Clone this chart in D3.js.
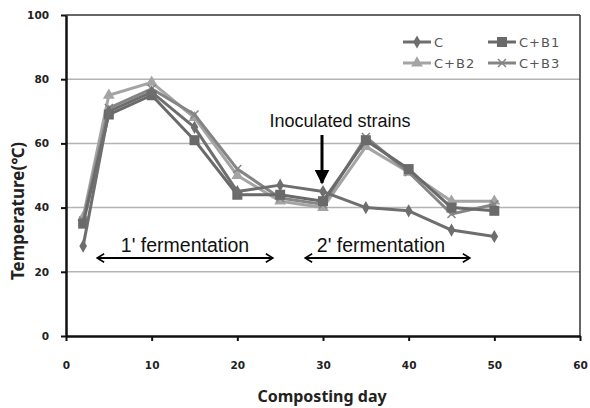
<!DOCTYPE html>
<html><head><meta charset="utf-8">
<script src="https://cdn.jsdelivr.net/npm/d3@7"></script>
<style>body{margin:0;background:#fff}svg{display:block}</style>
</head><body>
<svg id="c" width="590" height="408"></svg>
<script>
const days = [2,5,10,15,20,25,30,35,40,45,50];
const seriesNames = ["C","C+B1","C+B2","C+B3"];
const valC   = [28,70,76,65,45,47,45,40,39,33,31];
const valCB1 = [35,69,75,61,44,44,42,61,52,40,39];
const valCB2 = [37,75,79,68,50,42,40,59,51,42,42];
const valCB3 = [36,71,77,69,52,43,41,62,51,38,41];
const xTicks = [0,10,20,30,40,50,60];
const yTicks = [0,20,40,60,80,100];

const series = [
  {name:"C", vals:valC, color:"#6e6e6e", marker:"diamond"},
  {name:"C+B1", vals:valCB1, color:"#6a6a6a", marker:"square"},
  {name:"C+B2", vals:valCB2, color:"#a4a4a4", marker:"triangle"},
  {name:"C+B3", vals:valCB3, color:"#858585", marker:"cross"}
];

const svg = d3.select("#c");
const x = d3.scaleLinear().domain([0,60]).range([66,580]);
const y = d3.scaleLinear().domain([0,100]).range([336,15]);

// gridlines
svg.append("g").selectAll("line").data(yTicks.filter(d=>d>0 && d<100)).join("line")
  .attr("x1",x(0)).attr("x2",x(60)).attr("y1",d=>y(d)).attr("y2",d=>y(d))
  .attr("stroke","#b4b4b4").attr("stroke-width",1.5);
// frame top/right
svg.append("line").attr("x1",x(0)).attr("x2",x(60)).attr("y1",y(100)).attr("y2",y(100)).attr("stroke","#333").attr("stroke-width",1.5);
svg.append("line").attr("x1",x(60)).attr("x2",x(60)).attr("y1",y(100)).attr("y2",y(0)).attr("stroke","#333").attr("stroke-width",1.5);

const tickFont = "'DejaVu Sans', sans-serif";
const xAxis = svg.append("g").attr("transform",`translate(0,${y(0)})`)
  .call(d3.axisBottom(x).tickValues(xTicks).tickSize(5).tickSizeOuter(0).tickPadding(21));
const yAxis = svg.append("g").attr("transform",`translate(${x(0)},0)`)
  .call(d3.axisLeft(y).tickValues(yTicks).tickSize(5).tickSizeOuter(0).tickPadding(12));
[xAxis,yAxis].forEach(a=>{
  a.select(".domain").attr("stroke","#111").attr("stroke-width",2.5);
  a.selectAll(".tick line").attr("stroke","#111").attr("stroke-width",2);
  a.selectAll(".tick text").attr("font-family",tickFont).attr("font-weight","bold")
    .attr("font-size",10.5).attr("fill","#222");
});

// lines
const line = d3.line().x((d,i)=>x(days[i])).y(d=>y(d));
function marker(g, type, color){
  if(type==="diamond"){
    g.append("path").attr("d",d3.symbol(d3.symbolDiamond, 50)()).attr("fill",color);
  } else if(type==="square"){
    g.append("rect").attr("x",-5).attr("y",-5).attr("width",10).attr("height",10).attr("fill",color);
  } else if(type==="triangle"){
    g.append("path").attr("d",d3.symbol(d3.symbolTriangle, 60)()).attr("fill",color);
  } else {
    g.append("path").attr("d","M-4,-4L4,4M-4,4L4,-4").attr("stroke",color).attr("stroke-width",1.5).attr("fill","none");
  }
}
const order = [2,3,1,0];
order.forEach(k=>{
  const s = series[k];
  svg.append("path").datum(s.vals).attr("d",line).attr("fill","none")
    .attr("stroke",s.color).attr("stroke-width",3).attr("stroke-linejoin","round");
  s.vals.forEach((v,i)=>{
    const g = svg.append("g").attr("transform",`translate(${x(days[i])},${y(v)})`);
    marker(g,s.marker,s.color);
  });
});

// legend
const legPos = [[403,42],[488,42],[403,63],[488,63]];
series.forEach((s,i)=>{
  const [lx,ly] = legPos[i];
  svg.append("line").attr("x1",lx).attr("x2",lx+28).attr("y1",ly).attr("y2",ly)
    .attr("stroke",s.color).attr("stroke-width",3);
  const g = svg.append("g").attr("transform",`translate(${lx+14},${ly})`);
  marker(g,s.marker,s.color);
  svg.append("text").attr("x",lx+31).attr("y",ly+5).text(s.name)
    .attr("font-family","'DejaVu Sans', sans-serif").attr("font-size",13).attr("fill","#555")
    .attr("letter-spacing",1);
});

// annotations
const annFont = "'Liberation Sans', Arial, sans-serif";
svg.append("text").attr("x",340).attr("y",127).attr("text-anchor","middle").text("Inoculated strains")
  .attr("font-family",annFont).attr("font-size",18).attr("fill","#111");
svg.append("defs").html(`
  <marker id="ah" viewBox="0 0 10 10" refX="9" refY="5" markerWidth="5" markerHeight="5" orient="auto-start-reverse">
    <path d="M0,0L10,5L0,10z" fill="#000"/></marker>
  <marker id="oh" viewBox="0 0 14 14" refX="13" refY="7" markerWidth="10" markerHeight="10" orient="auto-start-reverse" markerUnits="userSpaceOnUse">
    <path d="M3,1L13,7L3,13" fill="none" stroke="#000" stroke-width="2.2"/></marker>`);
svg.append("line").attr("x1",x(30)-1).attr("x2",x(30)-1).attr("y1",135).attr("y2",183)
  .attr("stroke","#000").attr("stroke-width",3).attr("marker-end","url(#ah)");

svg.append("text").attr("x",185).attr("y",252).attr("text-anchor","middle").text("1' fermentation")
  .attr("font-family",annFont).attr("font-size",19.5).attr("fill","#111");
svg.append("line").attr("x1",97).attr("x2",273).attr("y1",258).attr("y2",258)
  .attr("stroke","#000").attr("stroke-width",2.2).attr("marker-start","url(#oh)").attr("marker-end","url(#oh)");
svg.append("text").attr("x",381).attr("y",252).attr("text-anchor","middle").text("2' fermentation")
  .attr("font-family",annFont).attr("font-size",19.5).attr("fill","#111");
svg.append("line").attr("x1",305).attr("x2",470).attr("y1",258).attr("y2",258)
  .attr("stroke","#000").attr("stroke-width",2.2).attr("marker-start","url(#oh)").attr("marker-end","url(#oh)");

// axis titles
svg.append("text").attr("x",322).attr("y",402).attr("text-anchor","middle").text("Composting day")
  .attr("font-family","'Noto Sans', sans-serif").attr("font-weight","bold").attr("font-size",16).attr("fill","#222");
svg.append("text").attr("transform","translate(24,211) rotate(-90)").attr("text-anchor","middle").text("Temperature(℃)")
  .attr("font-family","'Noto Sans', sans-serif").attr("font-weight","bold").attr("font-size",17).attr("fill","#222");
</script>
</body></html>
